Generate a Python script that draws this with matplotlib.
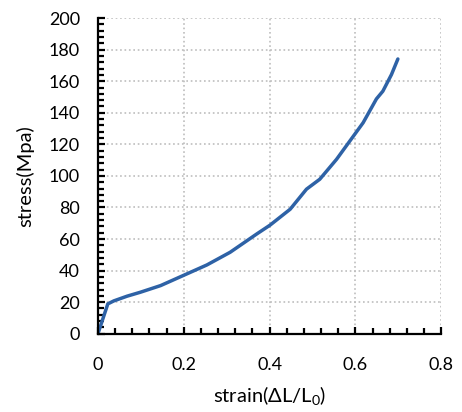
import matplotlib
matplotlib.use("Agg")
import matplotlib.pyplot as plt
from matplotlib.ticker import MultipleLocator, FuncFormatter

# stress-strain curve
strain = [0.0, 0.023, 0.037, 0.068, 0.099, 0.146, 0.198, 0.254, 0.308,
          0.370, 0.401, 0.448, 0.486, 0.517, 0.556, 0.587, 0.618, 0.649,
          0.664, 0.684, 0.699]
stress = [0.0, 18.9, 20.8, 23.8, 26.3, 30.5, 36.8, 43.6, 51.6,
          63.2, 68.8, 78.9, 91.6, 97.9, 110.5, 122.1, 133.7, 148.8,
          153.7, 164.2, 174.1]

plt.rcParams["font.family"] = ["Lato", "DejaVu Sans"]
plt.rcParams["mathtext.default"] = "regular"

fig = plt.figure(figsize=(4.62, 4.12), dpi=100)
ax = fig.add_axes([0.212, 0.19, 0.743, 0.766])

ax.plot(strain, stress, color="#2E62A6", lw=2.5, solid_capstyle="round",
        solid_joinstyle="round")

ax.set_xlim(0, 0.8)
ax.set_ylim(0, 200)
ax.xaxis.set_major_locator(MultipleLocator(0.2))
ax.xaxis.set_minor_locator(MultipleLocator(0.04))
ax.yaxis.set_major_locator(MultipleLocator(20))
ax.yaxis.set_minor_locator(MultipleLocator(4))
ax.xaxis.set_major_formatter(FuncFormatter(lambda v, p: "0" if abs(v) < 1e-9 else f"{v:.1f}"))

ax.grid(True, which="major", color="#BDBDBD", ls=":", lw=1.2)
ax.set_axisbelow(True)
for side in ("top", "right"):
    ax.spines[side].set_visible(False)
for side in ("left", "bottom"):
    ax.spines[side].set_linewidth(1.6)

ax.tick_params(which="both", direction="in", width=1.6, labelsize=13,
               colors="black")
ax.tick_params(which="major", length=5)
ax.tick_params(which="minor", length=4)
ax.tick_params(axis="y", pad=13)
ax.tick_params(axis="x", pad=17)

ax.set_xlabel("strain(\u0394L/L$_0$)", fontsize=14.5, labelpad=8)
ax.set_ylabel("stress(Mpa)", fontsize=14.5, labelpad=10)

fig.savefig("out.png", dpi=100)
